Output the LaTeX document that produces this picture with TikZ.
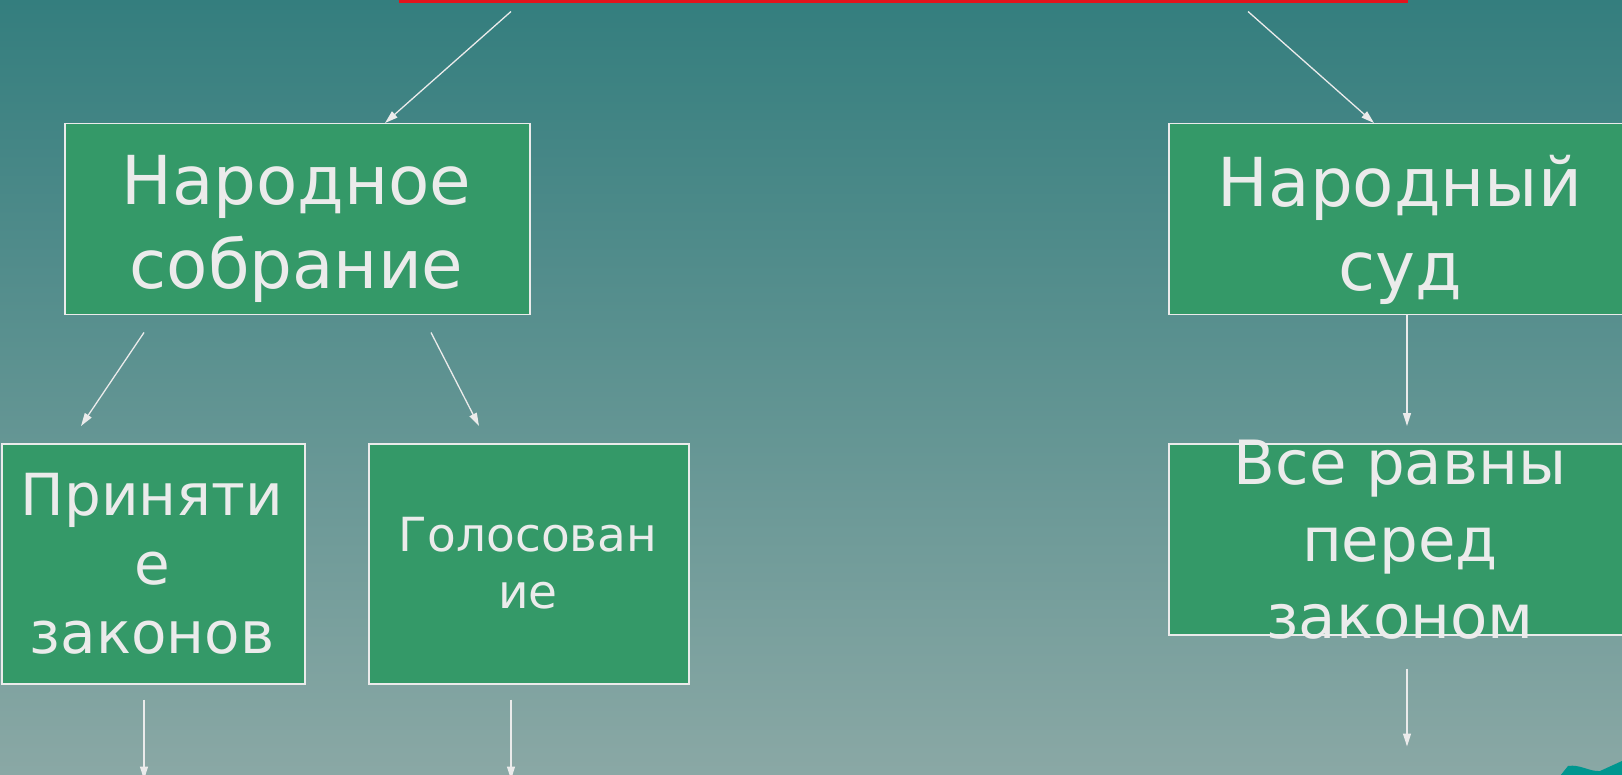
\documentclass[tikz,border=0pt]{standalone}
\usepackage{fontspec}
\setmainfont{DejaVu Sans}
\usepackage{xcolor}
\usetikzlibrary{arrows.meta,positioning,calc}

\definecolor{bgtop}{RGB}{52,126,126}
\definecolor{bgbot}{RGB}{138,168,165}
\definecolor{boxgreen}{RGB}{52,153,104}
\definecolor{txtgray}{RGB}{235,235,235}
\definecolor{titlered}{RGB}{226,20,28}
\definecolor{cornerteal}{RGB}{0,150,143}

\begin{document}
\begin{tikzpicture}[x=1pt,y=-1pt,
    box/.style={draw=txtgray, line width=1.5pt, fill=boxgreen, rectangle,
      anchor=north west, inner sep=0pt},
    lbl/.style={text=txtgray, align=center, anchor=north, inner sep=0pt},
    arr/.style={draw=txtgray, line width=1.3pt, -{Triangle[length=13pt,width=8pt]}}]
      \useasboundingbox (0,0) rectangle (1622,775);
      \clip (0,0) rectangle (1622,775);
      % Background
      \shade[top color=bgtop, bottom color=bgbot] (0,0) rectangle (1622,775);
      \fill[cornerteal] (1560,776) -- (1568,766) .. controls (1580,764) and (1590,772) .. (1600,771)
        -- (1622,761) -- (1622,776) -- cycle;

      % Title (only its bottom edge is seen)
      \node[draw=none, minimum width=1009pt, minimum height=40pt, anchor=south west,
        inner sep=0pt] (title) at (399,1.5) {};
      \draw[titlered, line width=3pt] (title.south west) -- (title.south east);

      % Boxes
      \node[box, minimum width=465pt, minimum height=191pt] (sobr) at (64,123) {};
      \node[box, minimum width=464pt, minimum height=191pt] (sud) at (1168,123) {};
      \node[box, minimum width=303pt, minimum height=240pt] (prin) at (1,443) {};
      \node[box, minimum width=320pt, minimum height=240pt] (golos) at (368,443) {};
      \node[box, minimum width=464pt, minimum height=191pt] (ravny) at (1168,443) {};

      % Texts
      \node[lbl, font=\fontsize{67.5}{84}\selectfont] (sobrT) at (296.5,155) {Народное\\собрание};
      \node[lbl, font=\fontsize{67.5}{84}\selectfont] (sudT) at (1400,155) {Народный\\суд};
      \node[lbl, font=\fontsize{58}{69}\selectfont] (prinT) at (152,473) {Приняти\\е\\законов};
      \node[lbl, font=\fontsize{47}{57}\selectfont] (golosT) at (528,517) {Голосован\\ие};
      \node[lbl, font=\fontsize{61}{77}\selectfont] (ravnyT) at (1400,440) {Все равны\\перед\\законом};

      % Arrows from the title
      \coordinate (t1) at ($(title.south west)+(112,10)$);
      \coordinate (t2) at ($(title.south west)+(849,10)$);
      \draw[arr] (t1) -- (sobr.north west -| 385,0);
      \draw[arr] (t2) -- (sud.north west -| 1374,0);

      % Arrows between boxes
      \draw[arr] ($(sobr.south west)+(80,17)$) -- ($(prin.north west)+(80,-17)$);
      \draw[arr] ($(sobr.south west)+(367,17)$) -- ($(golos.north west)+(111,-17)$);
      \draw[arr] ($(sud.south west)+(239,0)$) -- ($(ravny.north west)+(239,-17)$);

      % Arrows going down
      \coordinate (d1) at ($(prin.south west)+(143,95)$);
      \coordinate (d2) at ($(golos.south west)+(143,95)$);
      \coordinate (d3) at ($(ravny.south west)+(239,111)$);
      \draw[arr] ($(prin.south west)+(143,15)$) -- (d1);
      \draw[arr] ($(golos.south west)+(143,15)$) -- (d2);
      \draw[arr] ($(ravny.south west)+(239,33)$) -- (d3);
\end{tikzpicture}
\end{document}
